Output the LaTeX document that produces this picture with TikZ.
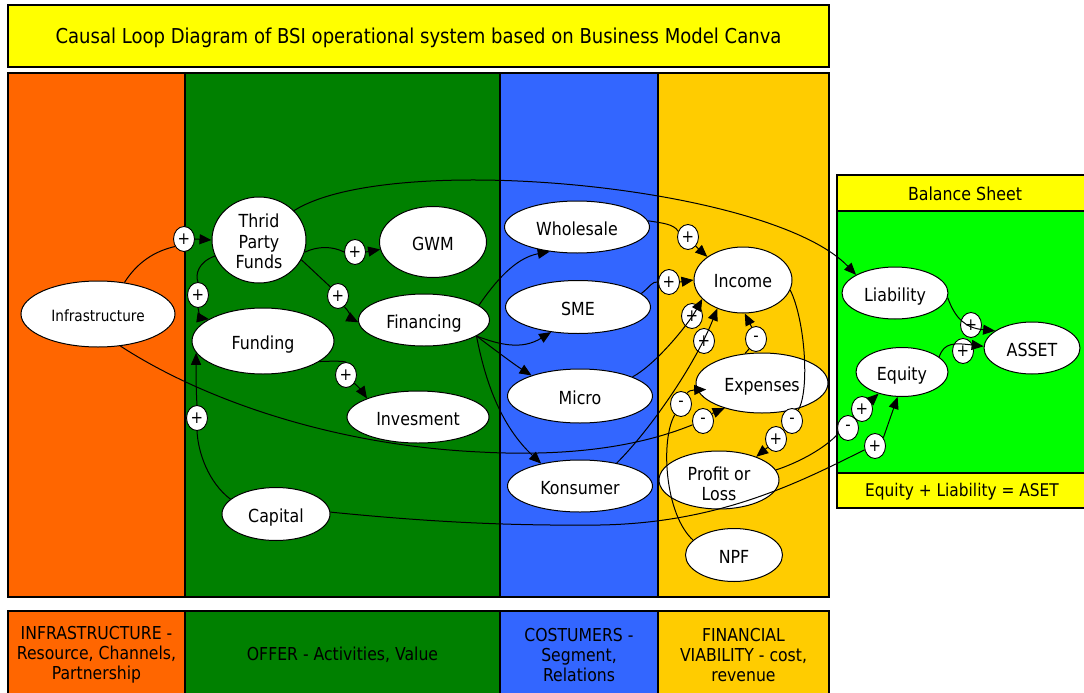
\documentclass[tikz,border=0pt]{standalone}
\usepackage{fontspec}
\setmainfont{DejaVu Sans}[FakeStretch=0.88]
\usetikzlibrary{arrows.meta, shapes.geometric}
\definecolor{InfraOrange}{RGB}{255, 102, 0}
\definecolor{OfferGreen}{RGB}{0, 128, 0}
\definecolor{CustBlue}{RGB}{51, 102, 255}
\definecolor{FinGold}{RGB}{255, 204, 0}
\definecolor{TitleYellow}{RGB}{255, 255, 0}
\definecolor{SheetGreen}{RGB}{0, 255, 0}
\newcommand{\fsz}[2]{\fontsize{#1}{#2}\selectfont}
\tikzset{
    panel/.style={draw=black, line width=1.3pt},
    var/.style={ellipse, draw=black, fill=white, line width=1pt, inner sep=0pt, align=center, text height=17pt, text depth=0pt, font=\fsz{18}{20.5}},
    pol/.style={ellipse, draw=black, fill=white, line width=0.9pt, inner sep=0pt, minimum width=21pt, minimum height=25pt, font=\fsz{17}{17}},
    wire/.style={line width=1pt},
    cause/.style={line width=1pt, -{Triangle[length=12pt,width=10pt]}}
}

\begin{document}
\begin{tikzpicture}[x=1pt, y=-1pt]
            \useasboundingbox (0,0) rectangle (1084,693);
            % title bar
            \filldraw[panel, fill=TitleYellow] (8,5) rectangle (829,67);
            \node[font=\fsz{20.5}{24}] (title) at (418.5,37.5) {Causal Loop Diagram of BSI operational system based on Business Model Canva};
            % canvas columns, top part and legend strip
            \foreach \xa/\xb/\col in {8/185/InfraOrange, 185/500/OfferGreen, 500/658/CustBlue, 658/829/FinGold} {
                \filldraw[panel, fill=\col] (\xa,73) rectangle (\xb,597);
                \filldraw[panel, fill=\col] (\xa,611) rectangle (\xb,700);
            }
            \node[align=center, font=\fsz{17.8}{20}] (lgInfra) at (96.5,655) {INFRASTRUCTURE -\\Resource, Channels,\\Partnership};
            \node[align=center, font=\fsz{17.8}{20}] (lgOffer) at (342.5,655) {OFFER - Activities, Value};
            \node[align=center, font=\fsz{17.8}{20}] (lgCust) at (579,655) {COSTUMERS -\\Segment,\\Relations};
            \node[align=center, font=\fsz{17.8}{20}] (lgFin) at (743.5,655) {FINANCIAL\\VIABILITY - cost,\\revenue};
            % balance sheet
            \filldraw[panel, fill=TitleYellow] (837,175) rectangle (1090,211);
            \filldraw[panel, fill=SheetGreen] (837,211) rectangle (1090,473);
            \filldraw[panel, fill=TitleYellow] (837,473) rectangle (1090,508);
            \node[font=\fsz{18}{20}] (bsHead) at (965,194) {Balance Sheet};
            \node[font=\fsz{17.5}{20}] (bsFoot) at (962,492) {Equity + Liability = ASET};

            % variables
            \node[var, minimum width=154pt, minimum height=66pt, text height=15pt, font=\fsz{15.5}{18}] (infra) at (98,314) {Infrastructure};
            \node[var, minimum width=94pt, minimum height=86pt, text height=57pt] (tpf) at (259,240) {Thrid\\Party\\Funds};
            \node[var, minimum width=107pt, minimum height=71pt] (gwm) at (433,242) {GWM};
            \node[var, minimum width=131pt, minimum height=52pt] (fin) at (424,320) {Financing};
            \node[var, minimum width=142pt, minimum height=66pt] (fund) at (263,341) {Funding};
            \node[var, minimum width=142pt, minimum height=52pt] (inv) at (418,417) {Invesment};
            \node[var, minimum width=108pt, minimum height=53pt] (cap) at (276,514) {Capital};
            \node[var, minimum width=145pt, minimum height=52pt] (whole) at (577,227) {Wholesale};
            \node[var, minimum width=145pt, minimum height=53pt] (sme) at (578,307) {SME};
            \node[var, minimum width=145pt, minimum height=54pt] (micro) at (580,396) {Micro};
            \node[var, minimum width=145pt, minimum height=52pt] (kons) at (580,486) {Konsumer};
            \node[var, minimum width=98pt, minimum height=66pt, text height=15pt] (inc) at (743,280) {Income};
            \node[var, minimum width=132pt, minimum height=60pt] (exp) at (762,383) {Expenses};
            \node[var, minimum width=120pt, minimum height=53pt, text height=41pt] (pl) at (719,480) {Profit or\\Loss};
            \node[var, minimum width=97pt, minimum height=53pt] (npf) at (734,555) {NPF};
            \node[var, minimum width=106pt, minimum height=52pt] (liab) at (895,293) {Liability};
            \node[var, minimum width=92pt, minimum height=49pt] (eq) at (902,372) {Equity};
            \node[var, minimum width=96pt, minimum height=52pt] (asset) at (1032,348) {ASSET};

            % polarity signs
            \foreach \n/\sgn/\x/\y in {s1/+/184/239, s2/+/198/295, s3/+/355/252, s4/+/338/296,
                s5/-/703/421, s6/+/197/418, s7/+/875/446, s8/+/346/375,
                s9/+/688/237, s10/+/669/282, s11/+/692/316, s12/+/704/341, s13/-/756/339,
                s14a/-/792/421, s14b/+/776/439, s15/-/681/404, s16a/-/848/428, s16b/+/862/409,
                s17/+/971/325, s18/+/963/351} {
                \node[pol] (\n) at (\x,\y) {\sgn};
            }

            % infrastructure
            \draw[wire] (infra.50) .. controls (140,258) and (160,250) .. (s1.220);
            \draw[cause] (s1.east) -- (tpf.180);
            \draw[wire] (infra.-55) .. controls (200,398) and (330,445) .. (480,452) .. controls (590,458) and (655,440) .. (s5.200);
            \draw[cause] (s5.40) -- (exp.214);
            % third party funds
            \draw[wire] (tpf.200) .. controls (198,262) and (195,275) .. (s2.north);
            \draw[cause] (s2.south) .. controls (199,314) and (201,318) .. (fund.158);
            \draw[wire] (tpf.-15) .. controls (318,246) and (332,246) .. (s3.west);
            \draw[cause] (s3.east) -- (gwm.188);
            \draw[wire] (tpf.-25) -- (s4.130);
            \draw[cause] (s4.-60) .. controls (350,312) and (352,319) .. (fin.182);
            \draw[cause] (tpf.40) .. controls (390,150) and (770,185) .. (liab.155);
            % capital and funding
            \draw[wire] (cap.162) .. controls (208,482) and (198,452) .. (s6.south);
            \draw[cause] (s6.north) .. controls (196,390) and (196,372) .. (fund.190);
            \draw[wire] (cap.2) .. controls (420,521) and (500,526) .. (600,525) .. controls (720,523) and (800,482) .. (s7.200);
            \draw[cause] (s7.45) -- (eq.-100);
            \draw[wire] (fund.-20) .. controls (334,361) and (343,361) .. (s8.north);
            \draw[cause] (s8.-45) .. controls (360,388) and (364,394) .. (inv.160);
            % financing to segments
            \draw[cause] (fin.15) .. controls (495,282) and (515,258) .. (whole.-138);
            \draw[cause] (fin.-17) .. controls (500,345) and (522,350) .. (sme.-137);
            \draw[cause] (fin.-17) .. controls (495,350) and (515,365) .. (micro.157);
            \draw[cause] (fin.-17) .. controls (485,380) and (500,425) .. (kons.150);
            % segments to income
            \draw[wire] (whole.5) .. controls (662,223) and (674,224) .. (s9.150);
            \draw[cause] (s9.-50) -- (inc.147);
            \draw[wire] (sme.12) .. controls (650,287) and (652,281) .. (s10.west);
            \draw[cause] (s10.east) -- (inc.180);
            \draw[cause] (micro.20) .. controls (655,365) and (688,325) .. (inc.205);
            \draw[cause] (kons.32) .. controls (650,430) and (695,365) .. (inc.228);
            % income, expenses, profit
            \draw[wire] (exp.120) -- (s13.-125);
            \draw[cause] (s13.110) -- (inc.-87);
            \draw[wire] (inc.-12) .. controls (805,320) and (810,390) .. (s14a.60);
            \draw[wire] (s14a) -- (s14b);
            \draw[cause] (s14b.-135) -- (pl.32);
            \draw[wire] (npf.160) .. controls (665,515) and (660,440) .. (s15.-120);
            \draw[cause, shorten >=-9pt] (s15.60) .. controls (688,391) and (692,390) .. (exp.186);
            % balance sheet
            \draw[wire] (pl.10) .. controls (800,462) and (825,448) .. (s16a.210);
            \draw[wire] (s16a) -- (s16b);
            \draw[cause] (s16b) -- (eq);
            \draw[cause] (liab.-5) .. controls (955,318) and (965,328) .. (asset.155);
            \draw[cause] (eq.22) .. controls (944,342) and (955,343) .. (asset.178);
        \end{tikzpicture}
\end{document}
